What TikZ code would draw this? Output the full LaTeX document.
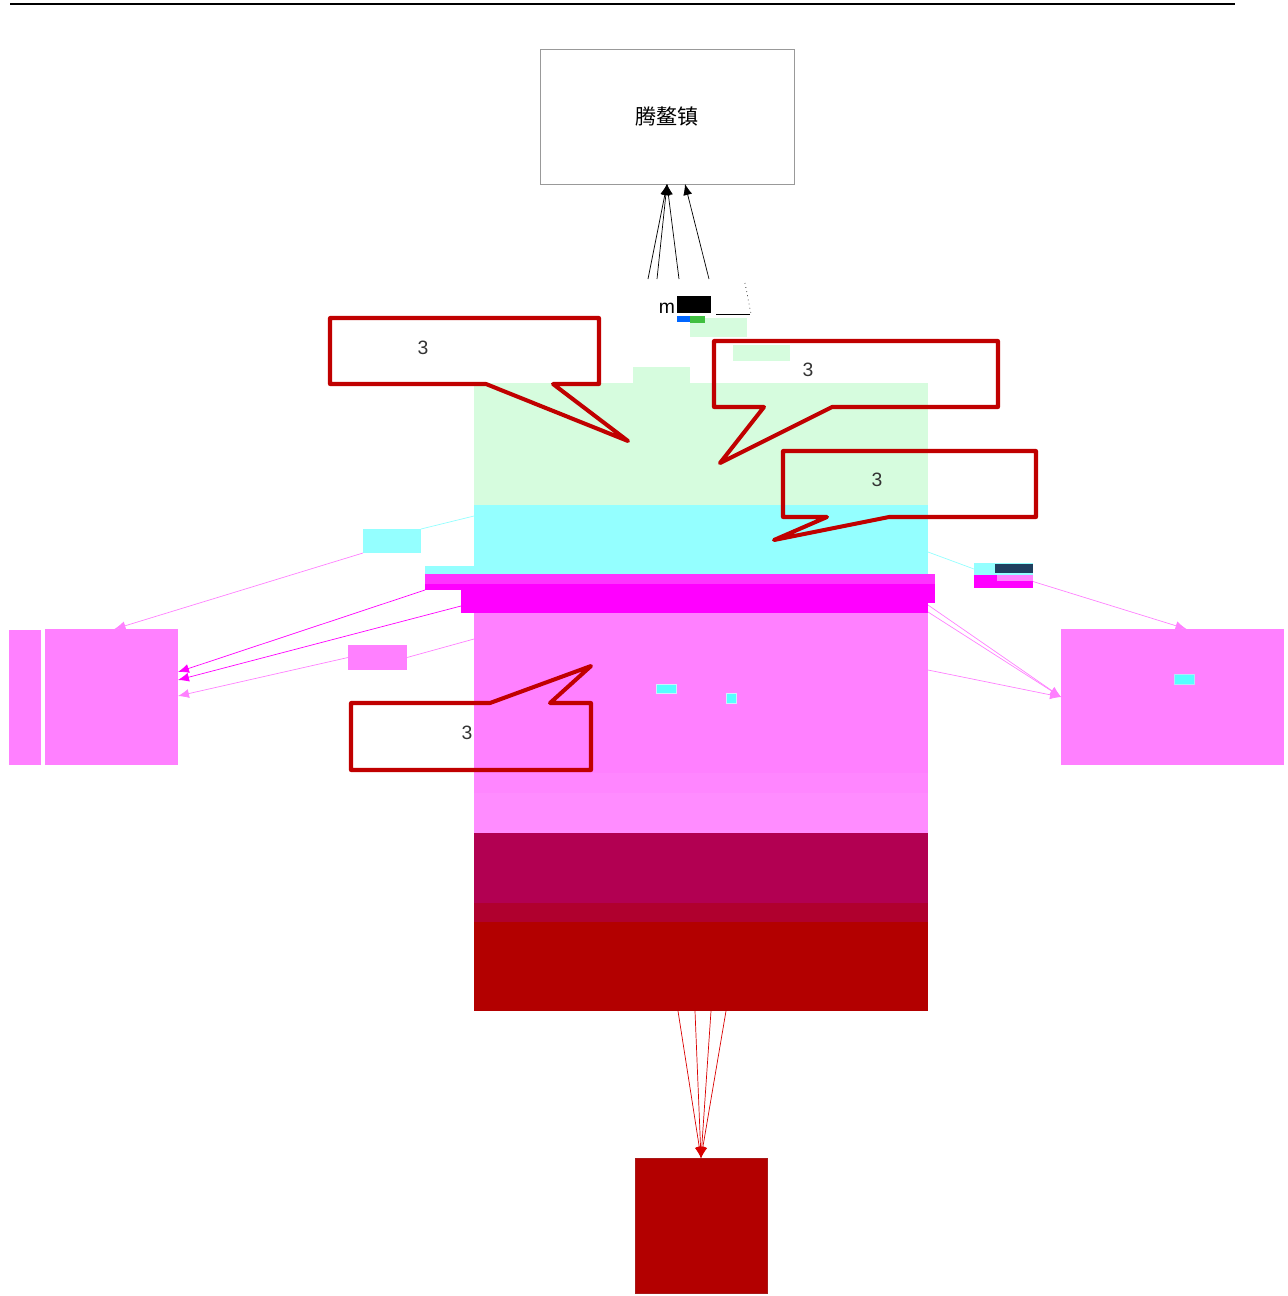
\documentclass[tikz,border=0pt]{standalone}
\usepackage{fontspec}
\setmainfont{Liberation Sans}
\newfontfamily\cjk{Noto Sans CJK SC}
\usetikzlibrary{arrows.meta,calc}
\definecolor{mint}{HTML}{D6FCDE}
\definecolor{aqua}{HTML}{94FFFF}
\definecolor{cyanbox}{HTML}{55FFFF}
\definecolor{pinky}{HTML}{FF80FF}
\definecolor{pinklt}{HTML}{FF8CFF}
\definecolor{mag}{HTML}{FF00FF}
\definecolor{maglt}{HTML}{FF33FF}
\definecolor{plum}{HTML}{B20052}
\definecolor{wine}{HTML}{B0002E}
\definecolor{crim}{HTML}{B30000}
\definecolor{callred}{HTML}{C00000}
\definecolor{navy}{HTML}{1F3F5F}
\begin{document}
\begin{tikzpicture}
  [x=0.02cm,y=-0.02cm,
   box/.style={rectangle,inner sep=0pt,outer sep=0pt},
   callout/.style={draw=callred,line width=2.3pt,line join=round},
   tag/.style={text=black!80,font=\fontsize{11}{13}\selectfont},
   >={Latex[length=2.2mm,width=1.8mm]}]
  \useasboundingbox (0,0) rectangle (1288,1296);
  \draw[line width=1.1pt] (10,4) -- (1235,4);

  \node[box,draw=gray!80,minimum width=5.08cm,minimum height=2.7cm,
        font=\cjk\fontsize{12}{14}\selectfont] (town) at (667,116.5) {腾鳌镇};

  % bands of the middle column
  \fill[mint] (690,318) rectangle (747,337);
  \fill[mint] (733,345) rectangle (790,361);
  \fill[mint] (633,367) rectangle (690,383);
  \fill[mint] (474,383) rectangle (928,505);
  \fill[aqua] (474,505) rectangle (928,575);
  \fill[aqua] (425,566) rectangle (474,575);
  \fill[maglt] (425,574) rectangle (935,584);
  \fill[mag] (425,584) rectangle (935,590);
  \fill[mag] (461,590) rectangle (935,603);
  \fill[mag] (461,603) rectangle (928,613);
  \fill[pinky] (474,613) rectangle (928,773);
  \fill[pinky!95] (474,773) rectangle (928,793);
  \fill[pinklt] (474,793) rectangle (928,833);
  \fill[plum] (474,833) rectangle (928,903);
  \fill[wine] (474,903) rectangle (928,922);
  \fill[crim] (474,922) rectangle (928,1011);
  \fill[cyanbox,draw=white!80!cyan] (656,684) rectangle (676,693);
  \fill[cyanbox,draw=white!80!cyan] (726,693) rectangle (736,703);

  % top scraps
  \node[box,fill=black,minimum width=0.68cm,minimum height=0.34cm] (blk) at (694,304.5) {};
  \node[tag,text=black,anchor=base east,inner sep=1pt] (mm) at (677,313) {m};
  \fill[blue!60!cyan] (677,316) rectangle (690,322);
  \fill[green!50!gray] (690,316) rectangle (705,323);
  \draw[thin] (716,314) -- (750,314);
  \draw[thin,dotted] (745,283) -- (751,314);

  \coordinate (u1) at (648,279);
  \coordinate (u2) at (657,279);
  \coordinate (u3) at (679,279);
  \coordinate (u4) at (709,279);
  \path[->,thin]
        (u1) edge (town.south)
        (u2) edge (town.south)
        (u3) edge (town.south)
        (u4) edge ($(town.south)+(18,0)$);

  % bottom
  \node[box,fill=crim,draw=crim!80!gray,minimum width=2.64cm,minimum height=2.7cm] (base) at (701,1225.5) {};
  \coordinate (d1) at (678,1011);
  \coordinate (d2) at (695,1011);
  \coordinate (d3) at (711,1011);
  \coordinate (d4) at (726,1011);
  \path[->,red!85!black,thin]
        (d1) edge (base.north)
        (d2) edge (base.north)
        (d3) edge (base.north)
        (d4) edge (base.north);

  % left side
  \node[box,fill=pinky,minimum width=2.66cm,minimum height=2.72cm] (west) at (111.5,697) {};
  \node[box,fill=pinky,minimum width=0.64cm,minimum height=2.7cm] (strip) at (25,697.5) {};
  \node[box,fill=aqua,minimum width=1.16cm,minimum height=0.48cm] (wcyan) at (392,541) {};
  \node[box,fill=pinky,minimum width=1.18cm,minimum height=0.5cm] (wpink) at (377.5,657.5) {};
  \coordinate (l1) at (474,516);
  \coordinate (l2) at (425,590);
  \coordinate (l3) at (461,606);
  \coordinate (l4) at (474,639);
  \draw[aqua,thin] (l1) -- (wcyan.north east);
  \draw[->,pinky,thin] (wcyan.south west) -- ($(west.north)+(3,0)$);
  \path[->,mag,thin]
        (l2) edge ($(west.east)+(0,-25)$)
        (l3) edge ($(west.east)+(0,-17)$);
  \draw[pinky,thin] (l4) -- (wpink.east);
  \draw[->,pinky,thin] (wpink.west) -- ($(west.east)+(0,-1)$);

  % right side
  \node[box,fill=pinky,minimum width=4.46cm,minimum height=2.72cm] (east) at (1172.5,697) {};
  \node[box,fill=cyanbox,draw=white!70!cyan,minimum width=0.4cm,minimum height=0.2cm] (espot) at (1184,679) {};
  \node[box,fill=aqua,minimum width=1.18cm,minimum height=0.24cm] (ecyan) at (1003.5,569) {};
  \node[box,fill=mag,minimum width=1.18cm,minimum height=0.26cm] (emag) at (1003.5,581.5) {};
  \fill[navy] (995,564) rectangle (1033,573);
  \fill[pinky] (997,575) rectangle (1033,581);
  \coordinate (r1) at (928,552);
  \coordinate (r2) at (928,605);
  \coordinate (r3) at (928,612);
  \coordinate (r4) at (928,670);
  \draw[aqua,thin] (r1) -- (ecyan.west);
  \draw[->,pinky,thin] (emag.east) -- ($(east.north)+(14,0)$);
  \path[->,pinky,thin]
        (r2) edge (east.west)
        (r3) edge (east.west)
        (r4) edge (east.west);

  % callouts
  \draw[callout] (330,318) -- (599,318) -- (599,384) -- (553,384) -- (628,441) -- (486,384) -- (330,384) -- cycle;
  \draw[callout] (714,341) -- (998,341) -- (998,407) -- (832,407) -- (720,463) -- (764,407) -- (714,407) -- cycle;
  \draw[callout] (783,451) -- (1036,451) -- (1036,517) -- (889,517) -- (774,540) -- (827,517) -- (783,517) -- cycle;
  \draw[callout] (351,703) -- (490,703) -- (591,666) -- (550,703) -- (591,703) -- (591,770) -- (351,770) -- cycle;
  \node[tag] (c1) at (423,348) {3};
  \node[tag] (c2) at (808,370) {3};
  \node[tag] (c3) at (877,480) {3};
  \node[tag] (c4) at (467,733) {3};

\end{tikzpicture}
\end{document}
